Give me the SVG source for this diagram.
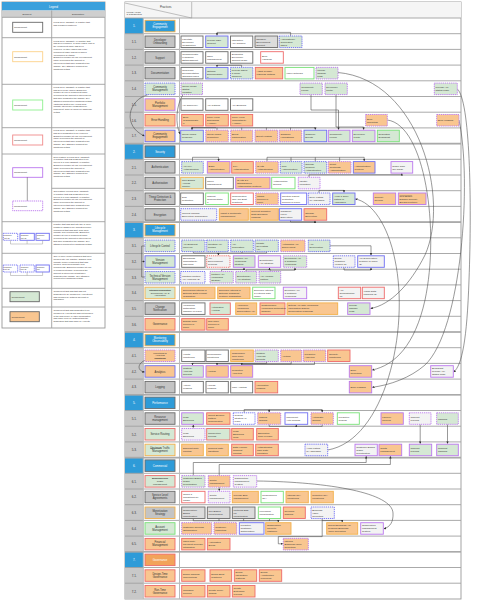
<svg xmlns="http://www.w3.org/2000/svg" width="479" height="600" viewBox="0 0 479 600">
<defs>
<marker id="a" viewBox="0 0 6 6" refX="5.5" refY="3" markerWidth="2.4" markerHeight="2.4" orient="auto" markerUnits="userSpaceOnUse"><path d="M0,0L6,3L0,6z" fill="#333"/></marker>
</defs>
<style>
text{font-family:"Liberation Sans",Arial,sans-serif;fill:#333}
.p{font-size:2.5px}
.c{font-size:2.7px;text-anchor:middle}
.cw{font-size:2.7px;text-anchor:middle;fill:#fff}
.n{font-size:3px;text-anchor:middle}
.nw{font-size:3px;text-anchor:middle;fill:#fff}
.lg{font-size:2.2px}
.lh{font-size:2.7px;text-anchor:middle}
rect{stroke-width:0.9}
.k{stroke:#6a6a6a}
.o{stroke:#f2b04a}
.r{stroke:#ee6a6a}
.u{stroke:#bb77ee}
.b{stroke:#6e6ef2}
.g{stroke:#77e077}
.d{stroke-dasharray:1.3 0.8}
.fw{fill:#fff}
.fg{fill:#d5e8d4}
.fo{fill:#f9c690}
.fl{fill:#f3f3f3}
.fy{fill:#c4c4c4}
.fs{fill:#dcdcdc}
.fb{fill:#2e9bd8}
.st{text-decoration:line-through}
.con path{fill:none;stroke:#444;stroke-width:0.55}
.grid{fill:none;stroke:#a0a0a0;stroke-width:0.9}
</style>
<rect x="0" y="0" width="479" height="600" fill="#fff"/>

<!-- LEGEND -->
<g id="legend">
<rect x="2" y="2" width="103" height="326" fill="#fff" stroke="#999" stroke-width="0.8"/>
<rect x="2" y="2" width="103" height="8.5" fill="#3aa0dc"/>
<text class="lh" x="53.5" y="7.5" fill="#fff" style="fill:#fff">Legend</text>
<rect x="2" y="10.5" width="103" height="6.8" fill="#cfcfcf"/>
<text class="lh" x="27" y="15" style="font-size:2.4px">Element</text>
<text class="lh" x="78" y="15" style="font-size:2.4px">Description</text>
<path class="grid" d="M51.7,10.5V328M2,17.3H105M2,37.7H105M2,84.3H105M2,127.7H105M2,154H105M51.7,188.3H105M2,221.7H105M2,253.3H105M2,288.3H105M2,307H105"/>
<rect class="fw k" x="12.7" y="22.3" width="30" height="10"/><text class="p" x="14" y="28.2">Component</text>
<rect class="fw" x="12.7" y="51.7" width="30" height="10" stroke="#fcd28a"/><text class="p" x="14" y="57.6">Component</text>
<rect class="fw" x="12.7" y="100" width="30" height="10" stroke="#8ef08e"/><text class="p" x="14" y="105.9">Component</text>
<rect class="fw" x="12.7" y="135" width="30" height="10" stroke="#f08a8a"/><text class="p" x="14" y="140.9">Component</text>
<rect class="fw u" x="12.7" y="167.7" width="30" height="9.6"/><text class="p" x="14" y="173.4">Component</text>
<path d="M27.3,177.3V201" stroke="#444" stroke-width="0.5"/>
<rect class="fw u d" x="12.7" y="201" width="30" height="9.7"/><text class="p" x="14" y="206.8">Component</text>
<rect class="fw b d" x="3.3" y="233.3" width="14.4" height="7"/><text class="p" x="4" y="236.3" style="font-size:2px">Compon<tspan x="4" dy="2.4">ent (2)</tspan></text>
<rect class="fw b" x="20" y="233.3" width="14.3" height="7"/><text class="p" x="20.7" y="236.3" style="font-size:2px">Compon<tspan x="20.7" dy="2.4">ent (2)</tspan></text>
<rect class="fw b" x="36" y="233.3" width="13.3" height="7"/><text class="p" x="36.7" y="236.3" style="font-size:2px">Compon<tspan x="36.7" dy="2.4">ent</tspan></text>
<path d="M10.5,240.3V244H42.6V240.3M27.1,244V240.3" fill="none" stroke="#999" stroke-width="0.5"/>
<rect class="fw b d" x="3.3" y="265" width="14.4" height="7"/><text class="p" x="4" y="268" style="font-size:2px">Compon<tspan x="4" dy="2.4">ent (2)</tspan></text>
<rect class="fw b d" x="20" y="265" width="14.3" height="7"/><text class="p" x="20.7" y="268" style="font-size:2px">Compon<tspan x="20.7" dy="2.4">ent (2)</tspan></text>
<rect class="fw b" x="36" y="265" width="13.3" height="7"/><text class="p" x="36.7" y="268" style="font-size:2px">Compon<tspan x="36.7" dy="2.4">ent</tspan></text>
<path d="M10.5,272V275.5H42.6V272M27.1,275.5V272" fill="none" stroke="#999" stroke-width="0.5"/>
<rect class="fg" x="10" y="291.7" width="29.3" height="10" stroke="#666"/><text class="p" x="11.5" y="297.6">Component</text>
<rect class="fo" x="10" y="311.7" width="29.3" height="10" stroke="#666"/><text class="p" x="11.5" y="317.6">Component</text>
<text class="lg" x="53.5" y="23">Focus area, capability or practice that<tspan x="53.5" dy="2.8">has remained unaltered.</tspan></text>
<text class="lg" x="53.5" y="41.5">Focus area, capability, or practice that<tspan x="53.5" dy="2.8">has been renamed. In some cases, part of</tspan><tspan x="53.5" dy="2.8">the component name has been</tspan><tspan x="53.5" dy="2.8">removed, in other cases part of the</tspan><tspan x="53.5" dy="2.8">component name has been added</tspan><tspan x="53.5" dy="2.8">(denounced by italics).</tspan><tspan x="53.5" dy="2.8">Bracketed number at end of component</tspan><tspan x="53.5" dy="2.8">name denounces the amount of</tspan><tspan x="53.5" dy="2.8">interviewees that have suggested the</tspan><tspan x="53.5" dy="2.8">change. See attached comment for</tspan><tspan x="53.5" dy="2.8">additional details.</tspan></text>
<text class="lg" x="53.5" y="87.8">Focus area, capability or practice that<tspan x="53.5" dy="2.8">has been newly added. Bracketed</tspan><tspan x="53.5" dy="2.8">number at end of component name</tspan><tspan x="53.5" dy="2.8">denounces the amount of interviewees</tspan><tspan x="53.5" dy="2.8">that have suggested the change. See</tspan><tspan x="53.5" dy="2.8">attached comment for additional details.</tspan><tspan x="53.5" dy="2.8">(Optional) Dotted line: Focus area</tspan><tspan x="53.5" dy="2.8">indicate interviewee suggestion for</tspan><tspan x="53.5" dy="2.8">placement. Click on arrow for additional</tspan><tspan x="53.5" dy="2.8">details.</tspan></text>
<text class="lg" x="53.5" y="131">Focus area, capability or practice that<tspan x="53.5" dy="2.8">has been suggested to be removed.</tspan><tspan x="53.5" dy="2.8">Bracketed number at end of component</tspan><tspan x="53.5" dy="2.8">name denounces the amount of</tspan><tspan x="53.5" dy="2.8">interviewees that have suggested the</tspan><tspan x="53.5" dy="2.8">change. See attached comment for</tspan><tspan x="53.5" dy="2.8">additional details.</tspan></text>
<text class="lg" x="53.5" y="157.5">New position of focus area, capability<tspan x="53.5" dy="2.8">or practice that was suggested to be</tspan><tspan x="53.5" dy="2.8">moved to a new capability or practice.</tspan><tspan x="53.5" dy="2.8">Bracketed number at end of component</tspan><tspan x="53.5" dy="2.8">name denounces the amount of</tspan><tspan x="53.5" dy="2.8">interviewees that have suggested the</tspan><tspan x="53.5" dy="2.8">change. See attached comment for</tspan><tspan x="53.5" dy="2.8">additional details.</tspan></text>
<text class="lg" x="53.5" y="192">Old position of focus area, capability,<tspan x="53.5" dy="2.8">or practice that was suggested to be</tspan><tspan x="53.5" dy="2.8">moved to a new capability or practice.</tspan><tspan x="53.5" dy="2.8">Bracketed number at end of component</tspan><tspan x="53.5" dy="2.8">name denounces the amount of</tspan><tspan x="53.5" dy="2.8">interviewees that have suggested the</tspan><tspan x="53.5" dy="2.8">change. See attached comment for</tspan><tspan x="53.5" dy="2.8">additional details.</tspan></text>
<text class="lg" x="53.5" y="225">Practice that was split into two or more<tspan x="53.5" dy="2.8">practices. Dashed line indicates former</tspan><tspan x="53.5" dy="2.8">component that was split, solid lines</tspan><tspan x="53.5" dy="2.8">indicate new components. Bracketed</tspan><tspan x="53.5" dy="2.8">number at end of component name</tspan><tspan x="53.5" dy="2.8">denounces the amount of interviewees</tspan><tspan x="53.5" dy="2.8">that have suggested the change. See</tspan><tspan x="53.5" dy="2.8">attached comment for additional details.</tspan></text>
<text class="lg" x="53.5" y="257">One or more former practices that were<tspan x="53.5" dy="2.8">merged into one practice. Dashed lines</tspan><tspan x="53.5" dy="2.8">indicate former component that was</tspan><tspan x="53.5" dy="2.8">merged, solid lines indicate new</tspan><tspan x="53.5" dy="2.8">components. Bracketed number at end</tspan><tspan x="53.5" dy="2.8">of component name denounces the</tspan><tspan x="53.5" dy="2.8">amount of interviewees that have</tspan><tspan x="53.5" dy="2.8">suggested the change. See attached</tspan><tspan x="53.5" dy="2.8">comment for additional details.</tspan></text>
<text class="lg" x="53.5" y="292">Component that was that was not<tspan x="53.5" dy="2.8">suggested to be modified by experts but</tspan><tspan x="53.5" dy="2.8">was modified by authors as result of</tspan><tspan x="53.5" dy="2.8">discussion.</tspan></text>
<text class="lg" x="53.5" y="311">Component that was suggested to be<tspan x="53.5" dy="2.8">modified by experts but was not included</tspan><tspan x="53.5" dy="2.8">in the final model or other modification</tspan><tspan x="53.5" dy="2.8">was made done by authors than the</tspan><tspan x="53.5" dy="2.8">suggestion that was made by experts.</tspan></text>
</g>

<!-- TABLE GRID -->
<g id="table">
<rect x="125" y="2" width="336" height="597" fill="#fff" stroke="#999" stroke-width="0.9"/>
<rect x="125" y="2" width="336" height="16" fill="#f5f5f5"/>
<rect x="125" y="18" width="18.3" height="581" fill="#c8c8c8"/>
<rect class="fb" x="125" y="18" width="18.3" height="15.7"/>
<rect class="fb" x="125" y="143.6" width="18.3" height="15.7"/>
<rect class="fb" x="125" y="222.1" width="18.3" height="15.7"/>
<rect class="fb" x="125" y="332" width="18.3" height="15.7"/>
<rect class="fb" x="125" y="394.8" width="18.3" height="15.7"/>
<rect class="fb" x="125" y="457.6" width="18.3" height="15.7"/>
<rect class="fb" x="125" y="551.8" width="18.3" height="15.7"/>
<path class="grid" d="M125,18H461M125,33.7H461M125,49.4H461M125,65.1H461M125,80.8H461M125,96.5H461M125,112.2H461M125,127.9H461M125,143.6H461M125,159.3H461M125,175H461M125,190.7H461M125,206.4H461M125,222.1H461M125,237.8H461M125,253.5H461M125,269.2H461M125,284.9H461M125,300.6H461M125,316.3H461M125,332H461M125,347.7H461M125,363.4H461M125,379.1H461M125,394.8H461M125,410.5H461M125,426.2H461M125,441.9H461M125,457.6H461M125,473.3H461M125,489H461M125,504.7H461M125,520.4H461M125,536.1H461M125,551.8H461M125,567.5H461M125,583.2H461"/>
<path d="M143.3,18V599M179.5,18V599" stroke="#bbb" stroke-width="1"/>
<path d="M191.7,2V18M125,3L191.7,18" stroke="#999" stroke-width="0.6" fill="none"/>
<path d="M125,143.6H461M125,222.1H461M125,332H461M125,394.8H461M125,457.6H461M125,551.8H461" stroke="#aaa" stroke-width="1.6" fill="none"/>
<text class="p" x="160" y="7.5" style="font-size:2.8px">Practices</text>
<text class="p" x="126.5" y="12.5" style="font-size:2.5px">Focus Areas<tspan x="126.5" dy="2.8">&amp; Capabilities</tspan></text>
<g class="num">
<text class="nw" x="134.2" y="27.3">1.</text>
<text class="n" x="134.2" y="43">1.1.</text>
<text class="n" x="134.2" y="58.7">1.2.</text>
<text class="n" x="134.2" y="74.4">1.3.</text>
<text class="n" x="134.2" y="90.1">1.4.</text>
<text class="n" x="134.2" y="105.8">1.5.</text>
<text class="n" x="134.2" y="121.5">1.6.</text>
<text class="n" x="134.2" y="137.2">1.7.</text>
<text class="nw" x="134.2" y="152.9">2.</text>
<text class="n" x="134.2" y="168.6">2.1.</text>
<text class="n" x="134.2" y="184.3">2.2.</text>
<text class="n" x="134.2" y="200">2.3.</text>
<text class="n" x="134.2" y="215.7">2.4.</text>
<text class="nw" x="134.2" y="231.4">3.</text>
<text class="n" x="134.2" y="247.1">3.1.</text>
<text class="n" x="134.2" y="262.8">3.2.</text>
<text class="n" x="134.2" y="278.5">3.3.</text>
<text class="n" x="134.2" y="294.2">3.4.</text>
<text class="n" x="134.2" y="309.9">3.5.</text>
<text class="n" x="134.2" y="325.6">3.6.</text>
<text class="nw" x="134.2" y="341.3">4.</text>
<text class="n" x="134.2" y="357">4.1.</text>
<text class="n" x="134.2" y="372.7">4.2.</text>
<text class="n" x="134.2" y="388.4">4.3.</text>
<text class="nw" x="134.2" y="404.1">5.</text>
<text class="n" x="134.2" y="419.8">5.1.</text>
<text class="n" x="134.2" y="435.5">5.2.</text>
<text class="n" x="134.2" y="451.2">5.3.</text>
<text class="nw" x="134.2" y="466.9">6.</text>
<text class="n" x="134.2" y="482.6">6.1.</text>
<text class="n" x="134.2" y="498.3">6.2.</text>
<text class="n" x="134.2" y="514">6.3.</text>
<text class="n" x="134.2" y="529.7">6.4.</text>
<text class="n" x="134.2" y="545.4">6.5.</text>
<text class="nw" x="134.2" y="561.1">7.</text>
<text class="n" x="134.2" y="576.8">7.1.</text>
<text class="n" x="134.2" y="592.5">7.2.</text>
</g>
</g>

<!-- CONNECTORS -->
<g id="connectors" class="con">
<path d="M290.6,36V32.4H217V35.4" marker-end="url(#a)"/>
<path d="M241.6,67.4V65.3H217V66.8" marker-end="url(#a)"/>
<path d="M311,94.6V110H338.5V129.6" marker-end="url(#a)"/>
<path d="M336,94.6V127H363.6V129.6" marker-end="url(#a)"/>
<path d="M183,94.6C176,105 175,125 180.2,134" marker-end="url(#a)"/>
<path d="M148,94.6C128,100 122,126 144.5,136" marker-end="url(#a)"/>
<path d="M217,130.2V127.7M241.7,130.2V127.7M266.4,130.2V127.7M290.5,130.2V127.7"/>
<path d="M192,129.6V127.7H315.3V129.6" marker-end="url(#a)"/>
<path d="M216,127.7H192V129.6" marker-end="url(#a)"/>
<path d="M192.5,161.6V157.3H218.6V161" marker-end="url(#a)"/>
<path d="M267,161.6V157.3H364.2V161" marker-end="url(#a)"/>
<path d="M291,157.3V161.6M315.3,157.3V161.6M339.6,157.3V161.6"/>
<path d="M309,177.3V174.8H401.8V173.4" marker-end="url(#a)"/>
<path d="M319,193V190.4H344V192.4" marker-end="url(#a)"/>
<path d="M290.5,220.2V222H315V220.7" marker-end="url(#a)"/>
<path d="M193.4,251.6V253H266.6V251.6M242,251.6V253"/>
<path d="M218.4,253V255.2" marker-end="url(#a)"/>
<path d="M330,245.8H371V255.2" marker-end="url(#a)"/>
<path d="M344,267.3V270H371V267.9" marker-end="url(#a)"/>
<path d="M221.6,271.5V269.6H244V267.9" marker-end="url(#a)"/>
<path d="M246,271.5V269.9H269.5V267.9" marker-end="url(#a)"/>
<path d="M270,271.5V270.2H295V267.9" marker-end="url(#a)"/>
<path d="M145,246H141.7V277H145"/>
<path d="M141.7,261.5H144.7" marker-end="url(#a)"/>
<path d="M338,72.5C420,80 450,200 425,255C410,285 390,305 370.6,308.5" marker-end="url(#a)"/>
<path d="M457.3,89C470,100 472,200 469,280C467,340 462,365 453.8,372" marker-end="url(#a)"/>
<path d="M387.3,120C425,125 440,230 425,300C415,345 395,365 372.3,370" marker-end="url(#a)"/>
<path d="M459,120C472,180 462,330 425,365C410,378 390,385 372.3,387.3" marker-end="url(#a)"/>
<path d="M327.7,450C385,440 410,330 395,260C388,225 372,202 355.3,199" marker-end="url(#a)"/>
<path d="M266.6,361.5V363.3H192.5V365.1" marker-end="url(#a)"/>
<path d="M291.2,361.5V363.9H217V365.1" marker-end="url(#a)"/>
<path d="M314.5,361.5V364.5H241.7V365.1" marker-end="url(#a)"/>
<path d="M146,360C137,363 137,371 144.6,372" marker-end="url(#a)"/>
<path d="M244.2,412.8V409.5H322.2V412.2" marker-end="url(#a)"/>
<path d="M269.2,409.5V412.2" marker-end="url(#a)"/>
<path d="M269.2,424.3V426.4H322.2V424.3"/>
<path d="M296.3,426.4V424.8" marker-end="url(#a)"/>
<path d="M420.2,424.3V443.6" marker-end="url(#a)"/>
<path d="M447.5,424.3V443.6" marker-end="url(#a)"/>
<path d="M193.3,428.5V424.9" marker-end="url(#a)"/>
<path d="M193.3,475.6V462.5H366.2V456.3" marker-end="url(#a)"/>
<path d="M219.2,475.6V464.5H390.4V456.3" marker-end="url(#a)"/>
<path d="M219.2,487.1V490.7" marker-end="url(#a)"/>
<path d="M256.7,481C330,482 392,493 393,513C393.5,522 390,527 383.9,528.8" marker-end="url(#a)"/>
<path d="M193.3,518.5V520.8H278.3V522.1" marker-end="url(#a)"/>
<path d="M219,518.5V520.8M243.6,518.5V520.8M269.5,518.5V520.8"/>
<path d="M322.2,518.5V520.6H342.2V522.1" marker-end="url(#a)"/>
<path d="M322.2,520.6V536.6H278.3V543.8H282.8" marker-end="url(#a)"/>
</g>

<!-- SECTION COMPONENTS -->
<g id="s1"><rect class="fb o" x="145" y="20.3" width="30" height="11.5"/><text class="cw" x="160" y="25.3">Community<tspan x="160" dy="3">Engagement</tspan></text></g>
<g id="s2"><rect class="fb k" x="145" y="145.9" width="30" height="11.5"/><text class="cw" x="160" y="152.7">Security</text></g>
<g id="s3"><rect class="fb o" x="145" y="224.4" width="30" height="11.5"/><text class="cw" x="160" y="229.4">Lifecycle<tspan x="160" dy="3">Management</tspan></text></g>
<g id="s4"><rect class="fb o" x="145" y="334.3" width="30" height="11.5"/><text class="cw" x="160" y="339.3">Monitoring<tspan x="160" dy="3">Observability</tspan></text></g>
<g id="s5"><rect class="fb k" x="145" y="397.1" width="30" height="11.5"/><text class="cw" x="160" y="403.9">Performance</text></g>
<g id="s6"><rect class="fb k" x="145" y="459.9" width="30" height="11.5"/><text class="cw" x="160" y="466.7">Commercial</text></g>
<g id="s7"><rect class="r" x="145" y="554.1" width="30" height="11.5" fill="#f2a35a"/><text class="cw" x="160" y="560.9">Governance</text></g>

<!-- CAPABILITY COMPONENTS -->
<g id="c1-1"><rect class="fy k" x="145" y="36" width="30" height="11.5"/><text class="c" x="160" y="41">Developer<tspan x="160" dy="3">Onboarding</tspan></text></g>
<g id="c1-2"><rect class="fy k" x="145" y="51.7" width="30" height="11.5"/><text class="c" x="160" y="58.5">Support</text></g>
<g id="c1-3"><rect class="fy k" x="145" y="67.4" width="30" height="11.5"/><text class="c" x="160" y="74.2">Documentation</text></g>
<g id="c1-4"><rect class="fg b d" x="145" y="83.1" width="30" height="11.5"/><text class="c" x="160" y="88.1">Community<tspan x="160" dy="3">Management</tspan></text></g>
<g id="c1-5"><rect class="fo u" x="145" y="98.8" width="30" height="11.5"/><text class="c" x="160" y="103.8">Portfolio<tspan x="160" dy="3">Management</tspan></text></g>
<g id="c1-6"><rect class="fo r" x="145" y="114.5" width="30" height="11.5"/><text class="c" x="160" y="121.3">Error Handling</text></g>
<g id="c1-7"><rect class="fo b" x="145" y="130.2" width="30" height="11.5"/><text class="c" x="160" y="135.2">Community<tspan x="160" dy="3">Engagement</tspan></text></g>
<g id="c2-1"><rect class="fy k" x="145" y="161.6" width="30" height="11.5"/><text class="c" x="160" y="168.4">Authentication</text></g>
<g id="c2-2"><rect class="fy k" x="145" y="177.3" width="30" height="11.5"/><text class="c" x="160" y="184.1">Authorization</text></g>
<g id="c2-3"><rect class="fy k" x="145" y="193" width="30" height="11.5"/><text class="c" x="160" y="198">Threat Detection &amp;<tspan x="160" dy="3">Protection</tspan></text></g>
<g id="c2-4"><rect class="fy k" x="145" y="208.7" width="30" height="11.5"/><text class="c" x="160" y="215.5">Encryption</text></g>
<g id="c3-1"><rect class="fg b d" x="145" y="240.1" width="30" height="11.5"/><text class="c" x="160" y="246.9">Lifecycle Control</text></g>
<g id="c3-2"><rect class="fg b" x="145" y="255.8" width="30" height="11.5"/><text class="c" x="160" y="260.8">Version<tspan x="160" dy="3">Management</tspan></text></g>
<g id="c3-3"><rect class="fg b d" x="145" y="271.5" width="30" height="11.5"/><text class="c" x="160" y="276.5">Technical Version<tspan x="160" dy="3">Management</tspan></text></g>
<g id="c3-4"><rect class="fg o" x="145" y="287.2" width="30" height="11.5"/><text class="c" x="160" y="290.8" style="font-size:2.4px"><tspan class="st">Interface Translation</tspan><tspan x="160" dy="2.8">Decoupling API &amp;</tspan><tspan x="160" dy="2.8">Application</tspan></text></g>
<g id="c3-5"><rect class="fy k" x="145" y="302.9" width="30" height="11.5"/><text class="c" x="160" y="307.9">Change<tspan x="160" dy="3">Notification</tspan></text></g>
<g id="c3-6"><rect class="fo r" x="145" y="318.6" width="30" height="11.5"/><text class="c" x="160" y="325.4">Governance</text></g>
<g id="c4-1"><rect class="fo u d" x="145" y="350" width="30" height="11.5"/><text class="c" x="160" y="353.6" style="font-size:2.4px">Monitoring &amp;<tspan x="160" dy="2.8">Analytics</tspan><tspan x="160" dy="2.8" class="st">Monitoring</tspan></text></g>
<g id="c4-2"><rect class="fo b" x="145" y="365.7" width="30" height="11.5"/><text class="c" x="160" y="372.5">Analytics</text></g>
<g id="c4-3"><rect class="fy k" x="145" y="381.4" width="30" height="11.5"/><text class="c" x="160" y="388.2">Logging</text></g>
<g id="c5-1"><rect class="fy k" x="145" y="412.8" width="30" height="11.5"/><text class="c" x="160" y="417.8">Resource<tspan x="160" dy="3">management</tspan></text></g>
<g id="c5-2"><rect class="fg r" x="145" y="428.5" width="30" height="11.5"/><text class="c" x="160" y="435.3">Service Routing</text></g>
<g id="c5-3"><rect class="fg o" x="145" y="444.2" width="30" height="11.5"/><text class="c" x="160" y="449.2"><tspan class="st">Upstream</tspan> Traffic<tspan x="160" dy="3">Management</tspan></text></g>
<g id="c6-1"><rect class="fg r" x="145" y="475.6" width="30" height="11.5"/><text class="c" x="160" y="479.2" style="font-size:2.4px"><tspan class="st">Business Level</tspan><tspan x="160" dy="2.8">Traffic</tspan><tspan x="160" dy="2.8">Management</tspan></text></g>
<g id="c6-2"><rect class="fy k" x="145" y="491.3" width="30" height="11.5"/><text class="c" x="160" y="496.3">Service Level<tspan x="160" dy="3">Agreements</tspan></text></g>
<g id="c6-3"><rect class="fy o" x="145" y="507" width="30" height="11.5"/><text class="c" x="160" y="512">Monetization<tspan x="160" dy="3">Strategy</tspan></text></g>
<g id="c6-4"><rect class="fg g" x="145" y="522.7" width="30" height="11.5"/><text class="c" x="160" y="527.7">Account<tspan x="160" dy="3">Management</tspan></text></g>
<g id="c6-5"><rect class="fo r" x="145" y="538.4" width="30" height="11.5"/><text class="c" x="160" y="543.4">Financial<tspan x="160" dy="3">Management</tspan></text></g>
<g id="c7-1"><rect class="fo r" x="145" y="569.8" width="30" height="11.5"/><text class="c" x="160" y="574.8">Design-Time<tspan x="160" dy="3">Governance</tspan></text></g>
<g id="c7-2"><rect class="fo r" x="145" y="585.5" width="30" height="11.5"/><text class="c" x="160" y="590.5">Run-Time<tspan x="160" dy="3">Governance</tspan></text></g>

<!-- PRACTICES -->
<g id="p11a"><rect class="fw k" x="181" y="36" width="22" height="11.5"/><text class="p" x="182.2" y="39.5">Facilitate<tspan x="182.2" dy="3">Developer</tspan><tspan x="182.2" dy="3">Registration</tspan></text></g>
<g id="p11b"><rect class="fg b" x="205.7" y="36" width="22.3" height="11.5"/><text class="p" x="206.9" y="41">Provide SDK<tspan x="206.9" dy="3">Support</tspan></text></g>
<g id="p11c"><rect class="fw k" x="230.5" y="36" width="22.3" height="11.5"/><text class="p" x="231.7" y="41">Interactive<tspan x="231.7" dy="3">API Console</tspan></text></g>
<g id="p11d"><rect class="fs k" x="255" y="36" width="22.7" height="11.5"/><text class="p" x="256.2" y="39.5">Sandbox<tspan x="256.2" dy="3">Environment</tspan><tspan x="256.2" dy="3">Support</tspan></text></g>
<g id="p11e"><rect class="fg b d" x="279.3" y="36" width="22.7" height="11.5"/><text class="p" x="280.5" y="39.5">Automatically<tspan x="280.5" dy="3">Generated</tspan><tspan x="280.5" dy="3">SDKs</tspan></text></g>

<g id="p12a"><rect class="fw k" x="181" y="51.7" width="22" height="11.5"/><text class="p" x="182.2" y="55.2">Communicatio<tspan x="182.2" dy="3">n Channel</tspan><tspan x="182.2" dy="3">Establishment</tspan></text></g>
<g id="p12b"><rect class="fw k" x="205.7" y="51.7" width="22.3" height="11.5"/><text class="p" x="206.9" y="56.7">Issue<tspan x="206.9" dy="3">Management</tspan></text></g>
<g id="p12c"><rect class="fw k" x="230.5" y="51.7" width="22.3" height="11.5"/><text class="p" x="231.7" y="55.2">Dedicated<tspan x="231.7" dy="3">Developer</tspan><tspan x="231.7" dy="3">Support Team</tspan></text></g>
<g id="p12d"><rect class="fw r" x="260.7" y="51.7" width="22.6" height="11.5"/><text class="p" x="261.9" y="56.7">Error<tspan x="261.9" dy="3">Handling</tspan></text></g>

<g id="p13a"><rect class="fw k" x="181" y="67.4" width="22" height="11.5"/><text class="p" x="182.2" y="70.9">Reference<tspan x="182.2" dy="3">Documentation</tspan><tspan x="182.2" dy="3">Standard Used</tspan></text></g>
<g id="p13b"><rect class="fg b" x="205.7" y="67.4" width="22.3" height="11.5"/><text class="p" x="206.9" y="72.4">Optimal<tspan x="206.9" dy="3">Documentatio</tspan><tspan x="206.9" dy="3">n</tspan></text></g>
<g id="p13c"><rect class="fg b d" x="230.5" y="67.4" width="22.3" height="11.5"/><text class="p" x="231.7" y="70.9">Provide SDKs<tspan x="231.7" dy="3">&amp; Code</tspan><tspan x="231.7" dy="3">Samples</tspan></text></g>
<g id="p13d"><rect class="fo r" x="255.3" y="67.4" width="27.4" height="11.5"/><text class="p" x="256.5" y="72.4">Adapt Symbol<tspan x="256.5" dy="3">Labeling Method</tspan></text></g>
<g id="p13e"><rect class="fw g" x="285" y="67.4" width="29" height="11.5"/><text class="p" x="286.2" y="74.1">Video Tutorials</text></g>
<g id="p13f"><rect class="fg u d" x="316" y="67.4" width="22" height="11.5"/><text class="p" x="317.2" y="70.9">Include<tspan x="317.2" dy="3">Change</tspan><tspan x="317.2" dy="3">Logs</tspan></text></g>

<g id="p14a"><rect class="fg u d" x="181" y="83.1" width="21.5" height="11.5"/><text class="p" x="182.2" y="86.6">Social Media<tspan x="182.2" dy="3">Status</tspan><tspan x="182.2" dy="3">Updates</tspan></text></g>
<g id="p14b"><rect class="fg u d" x="300" y="83.1" width="22.3" height="11.5"/><text class="p" x="301.2" y="88.1">Community<tspan x="301.2" dy="3">Forum</tspan></text></g>
<g id="p14c"><rect class="fg u d" x="325" y="83.1" width="22.3" height="11.5"/><text class="p" x="326.2" y="88.1">Developer<tspan x="326.2" dy="3">Portal</tspan></text></g>
<g id="p14d"><rect class="fg u d" x="434.3" y="83.1" width="23" height="11.5"/><text class="p" x="435.5" y="88.1">Provide API<tspan x="435.5" dy="3">Status Page</tspan></text></g>

<g id="p15a"><rect class="fw k" x="181" y="98.8" width="22" height="11.5"/><text class="p" x="182.2" y="105.5">API Discovery</text></g>
<g id="p15b"><rect class="fw k" x="205.7" y="98.8" width="22.3" height="11.5"/><text class="p" x="206.9" y="105.5">API Catalog</text></g>
<g id="p15c"><rect class="fw k" x="230.5" y="98.8" width="22.3" height="11.5"/><text class="p" x="231.7" y="105.5">API Bundling</text></g>

<g id="p16a"><rect class="fo r" x="181.7" y="114.5" width="21.6" height="11.5"/><text class="p" x="182.9" y="118">Error<tspan x="182.9" dy="3">Transformatio</tspan><tspan x="182.9" dy="3">n</tspan></text></g>
<g id="p16b"><rect class="fo r" x="205.7" y="114.5" width="22.6" height="11.5"/><text class="p" x="206.9" y="118">Policy Flow<tspan x="206.9" dy="3">Debugging</tspan><tspan x="206.9" dy="3">(Apigee)</tspan></text></g>
<g id="p16c"><rect class="fo r" x="230.7" y="114.5" width="22" height="11.5"/><text class="p" x="231.9" y="118">Policy Flow<tspan x="231.9" dy="3">Compatibility</tspan><tspan x="231.9" dy="3">(Apigee)</tspan></text></g>
<g id="p16d"><rect class="fo u d" x="365.7" y="114.5" width="21.6" height="11.5"/><text class="p" x="366.9" y="119.5">Error<tspan x="366.9" dy="3">Reporting</tspan></text></g>
<g id="p16e"><rect class="fo u d" x="436.7" y="114.5" width="22.3" height="11.5"/><text class="p" x="437.9" y="121.2">Error Logging</text></g>

<g id="p17a"><rect class="fg b" x="180.7" y="130.2" width="22.6" height="11.5"/><text class="p" x="181.9" y="135.2">Social Media<tspan x="181.9" dy="3">Presence</tspan></text></g>
<g id="p17b"><rect class="fo u d" x="205.7" y="130.2" width="22.6" height="11.5"/><text class="p" x="206.9" y="135.2">Social Media<tspan x="206.9" dy="3">Promotion</tspan></text></g>
<g id="p17c"><rect class="fo u d" x="230.7" y="130.2" width="22" height="11.5"/><text class="p" x="231.9" y="135.2">Event<tspan x="231.9" dy="3">Participation</tspan></text></g>
<g id="p17d"><rect class="fo u d" x="255" y="130.2" width="22.7" height="11.5"/><text class="p" x="256.2" y="136.9">Event Hosting</text></g>
<g id="p17e"><rect class="fo u d" x="279.3" y="130.2" width="22.4" height="11.5"/><text class="p" x="280.5" y="135.2">Organize<tspan x="280.5" dy="3">Hackathons</tspan></text></g>
<g id="p17f"><rect class="fg b" x="304" y="130.2" width="22.7" height="11.5"/><text class="p" x="305.2" y="135.2">Organize<tspan x="305.2" dy="3">Events</tspan></text></g>
<g id="p17g"><rect class="fg u" x="328.3" y="130.2" width="21.7" height="11.5"/><text class="p" x="329.5" y="135.2">Community<tspan x="329.5" dy="3">Forum</tspan></text></g>
<g id="p17h"><rect class="fg u" x="352.3" y="130.2" width="22.7" height="11.5"/><text class="p" x="353.5" y="135.2">Developer<tspan x="353.5" dy="3">Portal</tspan></text></g>
<g id="p17i"><rect class="fg g" x="377.3" y="130.2" width="22" height="11.5"/><text class="p" x="378.5" y="135.2">Dedicated<tspan x="378.5" dy="3">Evangelist</tspan></text></g>

<g id="p21a"><rect class="fg b d" x="181.7" y="161.6" width="21.6" height="11.5"/><text class="p" x="182.9" y="166.6">API Key<tspan x="182.9" dy="3">Authentication</tspan></text></g>
<g id="p21b"><rect class="fo u" x="207.3" y="161.6" width="22.7" height="11.5"/><text class="p" x="208.5" y="166.6">Basic<tspan x="208.5" dy="3">Authentication</tspan></text></g>
<g id="p21c"><rect class="fo r" x="231.7" y="161.6" width="21.6" height="11.5"/><text class="p" x="232.9" y="166.6">2 FA<tspan x="232.9" dy="3">Authentication</tspan></text></g>
<g id="p21d"><rect class="fo u d" x="255.7" y="161.6" width="22.6" height="11.5"/><text class="p" x="256.9" y="166.6">OAuth<tspan x="256.9" dy="3">Authentication</tspan></text></g>
<g id="p21e"><rect class="fg b d" x="280.3" y="161.6" width="21.7" height="11.5"/><text class="p" x="281.5" y="166.6">JWT<tspan x="281.5" dy="3">Authentication</tspan></text></g>
<g id="p21f"><rect class="fg b d" x="304" y="161.6" width="22.7" height="11.5"/><text class="p" x="305.2" y="165.1">OpenID<tspan x="305.2" dy="3">Connect</tspan><tspan x="305.2" dy="3">Authentication</tspan></text></g>
<g id="p21g"><rect class="fo u d" x="328.3" y="161.6" width="22.7" height="11.5"/><text class="p" x="329.5" y="165.1">Client<tspan x="329.5" dy="3">Certificate</tspan><tspan x="329.5" dy="3">Authentication</tspan></text></g>
<g id="p21h"><rect class="fo b" x="353.3" y="161.6" width="21.7" height="11.5"/><text class="p" x="354.5" y="166.6">Authentication<tspan x="354.5" dy="3">Protocol</tspan></text></g>
<g id="p21i"><rect class="fl u" x="391" y="161.6" width="21.7" height="11.5"/><text class="p" x="392.2" y="166.6">Single Sign<tspan x="392.2" dy="3">On (SSO)</tspan></text></g>

<g id="p22a"><rect class="fg o" x="180.7" y="177.3" width="22.6" height="11.5"/><text class="p" x="181.9" y="180.8">Role-Based<tspan x="181.9" dy="3">Access</tspan><tspan x="181.9" dy="3">Control</tspan></text></g>
<g id="p22b"><rect class="fw k" x="205.7" y="177.3" width="27.6" height="11.5"/><text class="p" x="206.9" y="182.3">Token<tspan x="206.9" dy="3">Management</tspan></text></g>
<g id="p22c"><rect class="fo u" x="235.7" y="177.3" width="34.3" height="11.5"/><text class="p" x="236.9" y="180.8">OAuth 2.0<tspan x="236.9" dy="3">Standardized</tspan><tspan x="236.9" dy="3">Authorization Protocol</tspan></text></g>
<g id="p22d"><rect class="fw g" x="271.7" y="177.3" width="23.3" height="11.5"/><text class="p" x="272.9" y="182.3">Authorization<tspan x="272.9" dy="3">Scopes</tspan></text></g>
<g id="p22e"><rect class="fl u d" x="298.3" y="177.3" width="21.7" height="11.5"/><text class="p" x="299.5" y="182.3">Identity<tspan x="299.5" dy="3">Mediation</tspan></text></g>

<g id="p23a"><rect class="fw k" x="180.7" y="193" width="22.6" height="11.5"/><text class="p" x="181.9" y="198">DoS<tspan x="181.9" dy="3">Protection</tspan></text></g>
<g id="p23b"><rect class="fw g" x="205.7" y="193" width="22.6" height="11.5"/><text class="p" x="206.9" y="196.5">JThreat<tspan x="206.9" dy="3">Implementatio</tspan><tspan x="206.9" dy="3">n</tspan></text></g>
<g id="p23c"><rect class="fw r" x="230.7" y="193" width="22.6" height="11.5"/><text class="p" x="231.9" y="196.5">Implemented<tspan x="231.9" dy="3">OWASP Best</tspan><tspan x="231.9" dy="3">Practices</tspan></text></g>
<g id="p23d"><rect class="fo u d" x="255.7" y="193" width="22.6" height="11.5"/><text class="p" x="256.9" y="196.5">CORS<tspan x="256.9" dy="3">Policies in</tspan><tspan x="256.9" dy="3">Place</tspan></text></g>
<g id="p23e"><rect class="fw b" x="280.7" y="193" width="26" height="11.5"/><text class="p" x="281.9" y="196.5">Injection Threat<tspan x="281.9" dy="3">Protection</tspan><tspan x="281.9" dy="3">Policies in Place</tspan></text></g>
<g id="p23f"><rect class="fl b d" x="308.3" y="193" width="21.7" height="11.5"/><text class="p" x="309.5" y="198">Deny Listing<tspan x="309.5" dy="3">IP Addresses</tspan></text></g>
<g id="p23g"><rect class="fg b" x="332.7" y="193" width="22.3" height="11.5"/><text class="p" x="333.9" y="196.5">Allow &amp; Deny<tspan x="333.9" dy="3">Listing IP</tspan><tspan x="333.9" dy="3">Addresses</tspan></text></g>
<g id="p23h"><rect class="fo u" x="373.3" y="193" width="22.4" height="11.5"/><text class="p" x="374.5" y="198">Security<tspan x="374.5" dy="3">Review</tspan></text></g>
<g id="p23i"><rect class="fo u" x="398.3" y="193" width="27.7" height="11.5"/><text class="p" x="399.5" y="196.5"><tspan class="st">Red-Button</tspan><tspan x="399.5" dy="3">Disable Security</tspan><tspan x="399.5" dy="3">Breach Protocol</tspan></text></g>

<g id="p24a"><rect class="fl b d" x="180.7" y="208.7" width="36" height="11.5"/><text class="p" x="181.9" y="213.7">Current Minimal<tspan x="181.9" dy="3">Encryption Compliance</tspan></text></g>
<g id="p24b"><rect class="fo o" x="219.3" y="208.7" width="29" height="11.5"/><text class="p" x="220.5" y="213.7">Mgmt &amp; Certificate<tspan x="220.5" dy="3">Management</tspan></text></g>
<g id="p24c"><rect class="fo o" x="250" y="208.7" width="28.3" height="11.5"/><text class="p" x="251.2" y="212.2">Prevent Sensitive<tspan x="251.2" dy="3">Data Exposure</tspan><tspan x="251.2" dy="3">Masking</tspan></text></g>
<g id="p24d"><rect class="fl b" x="279.3" y="208.7" width="22.4" height="11.5"/><text class="p" x="280.5" y="212.2">Transport<tspan x="280.5" dy="3">Layer</tspan><tspan x="280.5" dy="3">Encryption</tspan></text></g>
<g id="p24e"><rect class="fo r" x="304" y="208.7" width="22.7" height="11.5"/><text class="p" x="305.2" y="213.7">Storage<tspan x="305.2" dy="3">Encryption</tspan></text></g>

<g id="p31a"><rect class="fg b d" x="181.7" y="240.1" width="23.3" height="11.5"/><text class="p" x="182.9" y="245.1">API Endpoint<tspan x="182.9" dy="3">Lifecycle</tspan></text></g>
<g id="p31b"><rect class="fg b d" x="206.7" y="240.1" width="21.6" height="11.5"/><text class="p" x="207.9" y="245.1">Creating API<tspan x="207.9" dy="3">Portals</tspan></text></g>
<g id="p31c"><rect class="fg b d" x="230.7" y="240.1" width="22.6" height="11.5"/><text class="p" x="231.9" y="245.1">API<tspan x="231.9" dy="3">Publication</tspan></text></g>
<g id="p31d"><rect class="fg b d" x="255" y="240.1" width="23.3" height="11.5"/><text class="p" x="256.2" y="243.6">Update<tspan x="256.2" dy="3">Of existing</tspan><tspan x="256.2" dy="3">API</tspan></text></g>
<g id="p31e"><rect class="fo u d" x="280.7" y="240.1" width="24.3" height="11.5"/><text class="p" x="281.9" y="245.1">Automated API<tspan x="281.9" dy="3">Deployment</tspan></text></g>
<g id="p31f"><rect class="fg b d" x="308.3" y="240.1" width="21.7" height="11.5"/><text class="p" x="309.5" y="245.1">API<tspan x="309.5" dy="3">Deprecation</tspan></text></g>

<g id="p32a"><rect class="fw k" x="181.7" y="255.8" width="23.3" height="11.5"/><text class="p" x="182.9" y="259.3">Backwards<tspan x="182.9" dy="3">Compatibility</tspan><tspan x="182.9" dy="3">Checking</tspan></text></g>
<g id="p32b"><rect class="fl r d" x="206.7" y="255.8" width="23.3" height="11.5"/><text class="p" x="207.9" y="259.3">API<tspan x="207.9" dy="3">Development</tspan><tspan x="207.9" dy="3">Process</tspan></text></g>
<g id="p32c"><rect class="fg u" x="233.3" y="255.8" width="21.7" height="11.5"/><text class="p" x="234.5" y="259.3">Multiple API<tspan x="234.5" dy="3">Versioning</tspan><tspan x="234.5" dy="3">Strategy</tspan></text></g>
<g id="p32d"><rect class="fl u" x="258.3" y="255.8" width="22.4" height="11.5"/><text class="p" x="259.5" y="260.8">Evolutionary<tspan x="259.5" dy="3">API Strategy</tspan></text></g>
<g id="p32e"><rect class="fg u d" x="283.3" y="255.8" width="23.4" height="11.5"/><text class="p" x="284.5" y="259.3">Decoupled API<tspan x="284.5" dy="3">&amp; Software</tspan><tspan x="284.5" dy="3">Versioning</tspan></text></g>
<g id="p32f"><rect class="fl b d" x="333.3" y="255.8" width="21.7" height="11.5"/><text class="p" x="334.5" y="259.3">Define<tspan x="334.5" dy="3">Migration</tspan><tspan x="334.5" dy="3">Version (2)</tspan></text></g>
<g id="p32g"><rect class="fl b" x="357.7" y="255.8" width="26.6" height="11.5"/><text class="p" x="358.9" y="259.3">API Deprecation<tspan x="358.9" dy="3">Protocol in Place</tspan><tspan x="358.9" dy="3">(2)</tspan></text></g>

<g id="p33a"><rect class="fl b d" x="180.7" y="271.5" width="24.3" height="11.5"/><text class="p" x="181.9" y="276.5">Maintain Multiple<tspan x="181.9" dy="3">API Versions (2)</tspan></text></g>
<g id="p33b"><rect class="fg u d" x="210" y="271.5" width="23.3" height="11.5"/><text class="p" x="211.2" y="275">Multiple API<tspan x="211.2" dy="3">Versioning</tspan><tspan x="211.2" dy="3">Strategy</tspan></text></g>
<g id="p33c"><rect class="fg u d" x="235.7" y="271.5" width="21" height="11.5"/><text class="p" x="236.9" y="276.5">Evolutionary<tspan x="236.9" dy="3">API Strategy</tspan></text></g>
<g id="p33d"><rect class="fg u d" x="259" y="271.5" width="21.7" height="11.5"/><text class="p" x="260.2" y="276.5">API Version<tspan x="260.2" dy="3">Pattern</tspan></text></g>

<g id="p34a"><rect class="fo o" x="181.7" y="287.2" width="33.3" height="11.5"/><text class="p" x="182.9" y="290.7">Decoupling internal &amp;<tspan x="182.9" dy="3">External Data Format</tspan><tspan x="182.9" dy="3">Translation</tspan></text></g>
<g id="p34b"><rect class="fo o" x="217.7" y="287.2" width="32.3" height="11.5"/><text class="p" x="218.9" y="290.7">Decouple internal &amp;<tspan x="218.9" dy="3">External Transport</tspan><tspan x="218.9" dy="3">Protocol Translation</tspan></text></g>
<g id="p34c"><rect class="fw g" x="252.7" y="287.2" width="22.3" height="11.5"/><text class="p" x="253.9" y="290.7">Decouple internal<tspan x="253.9" dy="3">&amp; external data</tspan><tspan x="253.9" dy="3">model</tspan></text></g>
<g id="p34d"><rect class="fl u" x="283.3" y="287.2" width="23.4" height="11.5"/><text class="p" x="284.5" y="290.7">Decouple API<tspan x="284.5" dy="3">&amp; Software</tspan><tspan x="284.5" dy="3">Versioning</tspan></text></g>
<g id="p34e"><rect class="fl r" x="338.3" y="287.2" width="22.4" height="11.5"/><text class="p" x="339.5" y="290.7">API<tspan x="339.5" dy="3">Orchestration</tspan><tspan x="339.5" dy="3">(2)</tspan></text></g>
<g id="p34f"><rect class="fl r" x="362.3" y="287.2" width="22" height="11.5"/><text class="p" x="363.5" y="292.2">Visual Data<tspan x="363.5" dy="3">Mapping (2)</tspan></text></g>

<g id="p35a"><rect class="fw k" x="181.7" y="302.9" width="23.3" height="11.5"/><text class="p" x="182.9" y="306.4">Versioning<tspan x="182.9" dy="3">Notification</tspan><tspan x="182.9" dy="3">Channel in Place</tspan></text></g>
<g id="p35b"><rect class="fg r" x="210" y="302.9" width="20.3" height="11.5"/><text class="p" x="211.2" y="307.9">Automated<tspan x="211.2" dy="3">Alerting</tspan></text></g>
<g id="p35c"><rect class="fo o" x="235.7" y="302.9" width="21" height="11.5"/><text class="p" x="236.9" y="306.4">Announce<tspan x="236.9" dy="3">Versioning</tspan><tspan x="236.9" dy="3">Deprecation API</tspan></text></g>
<g id="p35d"><rect class="fo r" x="260" y="302.9" width="25" height="11.5"/><text class="p" x="261.2" y="306.4">Customizable<tspan x="261.2" dy="3">Versioning Notification</tspan><tspan x="261.2" dy="3">Channel</tspan></text></g>
<g id="p35e"><rect class="fo o" x="287" y="302.9" width="50.7" height="11.5"/><text class="p" x="288.2" y="306.4">Extend API with Versioning<tspan x="288.2" dy="3">Information Display</tspan><tspan x="288.2" dy="3">Deprecation Warnings</tspan></text></g>
<g id="p35f"><rect class="fg u" x="347.7" y="302.9" width="22.3" height="11.5"/><text class="p" x="348.9" y="306.4">Include<tspan x="348.9" dy="3">Change</tspan><tspan x="348.9" dy="3">Logs</tspan></text></g>

<g id="p36a"><rect class="fo r" x="181.7" y="318.6" width="23.3" height="11.5"/><text class="p" x="182.9" y="322.1">Design-Time<tspan x="182.9" dy="3">Policies in</tspan><tspan x="182.9" dy="3">Place</tspan></text></g>
<g id="p36b"><rect class="fo r" x="206.7" y="318.6" width="21.6" height="11.5"/><text class="p" x="207.9" y="322.1">Run-Time<tspan x="207.9" dy="3">Policies in</tspan><tspan x="207.9" dy="3">Place</tspan></text></g>

<g id="p41a"><rect class="fw k" x="181.7" y="350" width="23.3" height="11.5"/><text class="p" x="182.9" y="355">Health<tspan x="182.9" dy="3">Monitoring</tspan></text></g>
<g id="p41b"><rect class="fw k" x="206" y="350" width="22.3" height="11.5"/><text class="p" x="207.2" y="355">Performance<tspan x="207.2" dy="3">Monitoring</tspan></text></g>
<g id="p41c"><rect class="fo o" x="230.7" y="350" width="22.6" height="11.5"/><text class="p" x="231.9" y="353.5">Responsive<tspan x="231.9" dy="3">Real-Time</tspan><tspan x="231.9" dy="3">Monitoring</tspan></text></g>
<g id="p41d"><rect class="fg u d" x="255" y="350" width="23.3" height="11.5"/><text class="p" x="256.2" y="353.5">Custom<tspan x="256.2" dy="3">Analysis</tspan><tspan x="256.2" dy="3">Reports</tspan></text></g>
<g id="p41e"><rect class="fo u d" x="280.7" y="350" width="21" height="11.5"/><text class="p" x="281.9" y="356.7">Alerting</text></g>
<g id="p41f"><rect class="fo u d" x="303.3" y="350" width="22.4" height="11.5"/><text class="p" x="304.5" y="355">Predictive<tspan x="304.5" dy="3">Analytics</tspan></text></g>
<g id="p41g"><rect class="fo r" x="327.7" y="350" width="22.3" height="11.5"/><text class="p" x="328.9" y="355">Security<tspan x="328.9" dy="3">Monitoring</tspan></text></g>

<g id="p42a"><rect class="fg u" x="181.7" y="365.7" width="21.6" height="11.5"/><text class="p" x="182.9" y="369.2">Custom<tspan x="182.9" dy="3">Analysis</tspan><tspan x="182.9" dy="3">Reports</tspan></text></g>
<g id="p42b"><rect class="fo u" x="206" y="365.7" width="22.3" height="11.5"/><text class="p" x="207.2" y="372.4">Alerting</text></g>
<g id="p42c"><rect class="fo u" x="230.7" y="365.7" width="22" height="11.5"/><text class="p" x="231.9" y="370.7">Predictive<tspan x="231.9" dy="3">Analytics</tspan></text></g>
<g id="p42d"><rect class="fo u" x="349.3" y="365.7" width="22.4" height="11.5"/><text class="p" x="350.5" y="370.7">Error<tspan x="350.5" dy="3">Reporting</tspan></text></g>
<g id="p42e"><rect class="fl u" x="430.7" y="365.7" width="22.6" height="11.5"/><text class="p" x="431.9" y="369.2">Broadcast<tspan x="431.9" dy="3">Provide API</tspan><tspan x="431.9" dy="3">Status Page</tspan></text></g>

<g id="p43a"><rect class="fw k" x="181.7" y="381.4" width="21.6" height="11.5"/><text class="p" x="182.9" y="386.4">Activity<tspan x="182.9" dy="3">Logging</tspan></text></g>
<g id="p43b"><rect class="fw k" x="206" y="381.4" width="22.3" height="11.5"/><text class="p" x="207.2" y="386.4">Access<tspan x="207.2" dy="3">Logging</tspan></text></g>
<g id="p43c"><rect class="fw k" x="230.7" y="381.4" width="22" height="11.5"/><text class="p" x="231.9" y="388.1">User Auditing</text></g>
<g id="p43d"><rect class="fo r" x="255" y="381.4" width="22.7" height="11.5"/><text class="p" x="256.2" y="386.4">Application<tspan x="256.2" dy="3">Logging</tspan></text></g>
<g id="p43e"><rect class="fo u" x="349.3" y="381.4" width="22.4" height="11.5"/><text class="p" x="350.5" y="388.1">Error Logging</text></g>

<g id="p51a"><rect class="fg u" x="181.7" y="412.8" width="21.6" height="11.5"/><text class="p" x="182.9" y="417.8">Load<tspan x="182.9" dy="3">Balancing</tspan></text></g>
<g id="p51b"><rect class="fo r" x="206.7" y="412.8" width="23.3" height="11.5"/><text class="p" x="207.9" y="416.3">Circuit Breaker<tspan x="207.9" dy="3">Pattern</tspan><tspan x="207.9" dy="3">Implemented</tspan></text></g>
<g id="p51c"><rect class="fw b d" x="233.3" y="412.8" width="21.7" height="11.5"/><text class="p" x="234.5" y="416.3">Scaling<tspan x="234.5" dy="3">Strategy in</tspan><tspan x="234.5" dy="3">Place</tspan></text></g>
<g id="p51d"><rect class="fo u d" x="257.7" y="412.8" width="23" height="11.5"/><text class="p" x="258.9" y="417.8">Manual<tspan x="258.9" dy="3">Scaling</tspan></text></g>
<g id="p51e"><rect class="fw b" x="285" y="412.8" width="22.7" height="11.5"/><text class="p" x="286.2" y="417.8">Implement<tspan x="286.2" dy="3">Auto Scaling</tspan></text></g>
<g id="p51f"><rect class="fo u d" x="311" y="412.8" width="22.3" height="11.5"/><text class="p" x="312.2" y="417.8">Automatic<tspan x="312.2" dy="3">Scaling</tspan></text></g>
<g id="p51g"><rect class="fw g" x="337.3" y="412.8" width="22" height="11.5"/><text class="p" x="338.5" y="417.8">Predictive<tspan x="338.5" dy="3">Scaling</tspan></text></g>
<g id="p51h"><rect class="fo u" x="381" y="412.8" width="22.3" height="11.5"/><text class="p" x="382.2" y="417.8">Failover<tspan x="382.2" dy="3">Policies</tspan></text></g>
<g id="p51i"><rect class="fl u d" x="409.3" y="412.8" width="21.7" height="11.5"/><text class="p" x="410.5" y="417.8">Timeout<tspan x="410.5" dy="3">Policies</tspan></text></g>
<g id="p51j"><rect class="fg u d" x="436.7" y="412.8" width="21.6" height="11.5"/><text class="p" x="437.9" y="419.5">Caching</text></g>

<g id="p52a"><rect class="fl u d" x="181.7" y="428.5" width="23.3" height="11.5"/><text class="p" x="182.9" y="433.5">Load<tspan x="182.9" dy="3">Balancing</tspan></text></g>
<g id="p52b"><rect class="fg r" x="206.7" y="428.5" width="23.3" height="11.5"/><text class="p" x="207.9" y="433.5">Connection<tspan x="207.9" dy="3">Pooling</tspan></text></g>
<g id="p52c"><rect class="fo r" x="231.7" y="428.5" width="21.6" height="11.5"/><text class="p" x="232.9" y="432">Load<tspan x="232.9" dy="3">Balancing</tspan><tspan x="232.9" dy="3">Tiers</tspan></text></g>
<g id="p52d"><rect class="fo r" x="256.7" y="428.5" width="21.6" height="11.5"/><text class="p" x="257.9" y="433.5">Escalation<tspan x="257.9" dy="3">Plan in Place</tspan></text></g>

<g id="p53a"><rect class="fo o" x="181.7" y="444.2" width="21.6" height="11.5"/><text class="p" x="182.9" y="449.2">Discount Rate<tspan x="182.9" dy="3">Limiting</tspan></text></g>
<g id="p53b"><rect class="fo o" x="206.7" y="444.2" width="21.6" height="11.5"/><text class="p" x="207.9" y="449.2">Request Rate<tspan x="207.9" dy="3">Throttling</tspan></text></g>
<g id="p53c"><rect class="fo r" x="231.7" y="444.2" width="21.6" height="11.5"/><text class="p" x="232.9" y="447.7">Data Volume<tspan x="232.9" dy="3">Request</tspan><tspan x="232.9" dy="3">Limiting</tspan></text></g>
<g id="p53d"><rect class="fo r" x="255.7" y="444.2" width="22.6" height="11.5"/><text class="p" x="256.9" y="447.7">Authenticated<tspan x="256.9" dy="3">User Rate</tspan><tspan x="256.9" dy="3">Limitation</tspan></text></g>
<g id="p53e"><rect class="fl b d" x="305" y="444.2" width="22.7" height="11.5"/><text class="p" x="306.2" y="449.2">Allow Listing<tspan x="306.2" dy="3">IP Addresses</tspan></text></g>
<g id="p53f"><rect class="fl u" x="355" y="444.2" width="22.3" height="11.5"/><text class="p" x="356.2" y="447.7">Customer-Based<tspan x="356.2" dy="3">Traffic</tspan><tspan x="356.2" dy="3">Prioritization</tspan></text></g>
<g id="p53g"><rect class="fo u" x="379" y="444.2" width="22.7" height="11.5"/><text class="p" x="380.2" y="449.2">Quota<tspan x="380.2" dy="3">Management</tspan></text></g>
<g id="p53h"><rect class="fg u" x="409.3" y="444.2" width="22.4" height="11.5"/><text class="p" x="410.5" y="449.2">Timeout<tspan x="410.5" dy="3">Policies</tspan></text></g>
<g id="p53i"><rect class="fg u" x="436.7" y="444.2" width="21.6" height="11.5"/><text class="p" x="437.9" y="449.2">Request<tspan x="437.9" dy="3">Caching</tspan></text></g>

<g id="p61a"><rect class="fg u d" x="181.7" y="475.6" width="23.3" height="11.5"/><text class="p" x="182.9" y="479.1">Customer-Based<tspan x="182.9" dy="3">Traffic</tspan><tspan x="182.9" dy="3">Prioritization</tspan></text></g>
<g id="p61b"><rect class="fo u d" x="208.3" y="475.6" width="21.7" height="11.5"/><text class="p" x="209.5" y="480.6">Quota<tspan x="209.5" dy="3">Management</tspan></text></g>
<g id="p61c"><rect class="fl u d" x="233.3" y="475.6" width="23.4" height="11.5"/><text class="p" x="234.5" y="479.1">Subscription<tspan x="234.5" dy="3">Management</tspan><tspan x="234.5" dy="3">System</tspan></text></g>

<g id="p62a"><rect class="fw r" x="181.7" y="491.3" width="23.3" height="11.5"/><text class="p" x="182.9" y="494.8">Terms &amp;<tspan x="182.9" dy="3">Conditions for</tspan><tspan x="182.9" dy="3">Usage</tspan></text></g>
<g id="p62b"><rect class="fl u d" x="208.3" y="491.3" width="21.7" height="11.5"/><text class="p" x="209.5" y="496.3">Quota<tspan x="209.5" dy="3">Management</tspan></text></g>
<g id="p62c"><rect class="fo o" x="232.3" y="491.3" width="26" height="11.5"/><text class="p" x="233.5" y="496.3">Provide Bulk<tspan x="233.5" dy="3">Management</tspan></text></g>
<g id="p62d"><rect class="fw g" x="261" y="491.3" width="22.3" height="11.5"/><text class="p" x="262.2" y="496.3">Personalized<tspan x="262.2" dy="3">SLA</tspan></text></g>
<g id="p62e"><rect class="fo o" x="286" y="491.3" width="22.3" height="11.5"/><text class="p" x="287.2" y="496.3">Internal SLA<tspan x="287.2" dy="3">Monitoring</tspan></text></g>
<g id="p62f"><rect class="fo o" x="311" y="491.3" width="22.3" height="11.5"/><text class="p" x="312.2" y="496.3">Proactive SLA<tspan x="312.2" dy="3">Monitoring</tspan></text></g>

<g id="p63a"><rect class="fs k" x="181.7" y="507" width="23.3" height="11.5"/><text class="p" x="182.9" y="510.5">Subscription-<tspan x="182.9" dy="3">Based</tspan><tspan x="182.9" dy="3">Monetization</tspan></text></g>
<g id="p63b"><rect class="fs k" x="207.3" y="507" width="22.7" height="11.5"/><text class="p" x="208.5" y="512">Tier-Based<tspan x="208.5" dy="3">Monetization</tspan></text></g>
<g id="p63c"><rect class="fs k" x="232.3" y="507" width="22.7" height="11.5"/><text class="p" x="233.5" y="510.5">Metering-Bas<tspan x="233.5" dy="3">ed</tspan><tspan x="233.5" dy="3">Monetization</tspan></text></g>
<g id="p63d"><rect class="fw g" x="258.3" y="507" width="22.4" height="11.5"/><text class="p" x="259.5" y="512">Freemium<tspan x="259.5" dy="3">Monetization</tspan></text></g>
<g id="p63e"><rect class="fo r" x="283.3" y="507" width="22" height="11.5"/><text class="p" x="284.5" y="512">Revenue<tspan x="284.5" dy="3">Sharing</tspan></text></g>
<g id="p63f"><rect class="fl b d" x="311" y="507" width="23.3" height="11.5"/><text class="p" x="312.2" y="510.5">Business<tspan x="312.2" dy="3">Value</tspan><tspan x="312.2" dy="3">Reporting</tspan></text></g>

<g id="p64a"><rect class="fo u d" x="181.7" y="522.7" width="30" height="11.5"/><text class="p" x="182.9" y="527.7">Customer Success<tspan x="182.9" dy="3">Optimization</tspan></text></g>
<g id="p64b"><rect class="fo u d" x="214" y="522.7" width="22.7" height="11.5"/><text class="p" x="215.2" y="527.7">Customer<tspan x="215.2" dy="3">Marketing</tspan></text></g>
<g id="p64c"><rect class="fl b" x="239.3" y="522.7" width="24.7" height="11.5"/><text class="p" x="240.5" y="526.2">Proactive<tspan x="240.5" dy="3">Customer</tspan><tspan x="240.5" dy="3">Optimization</tspan></text></g>
<g id="p64d"><rect class="fo o" x="265.7" y="522.7" width="25.3" height="11.5"/><text class="p" x="266.9" y="526.2">Subscription<tspan x="266.9" dy="3">report to</tspan><tspan x="266.9" dy="3">customer</tspan></text></g>
<g id="p64e"><rect class="fo o" x="326.7" y="522.7" width="31" height="11.5"/><text class="p" x="327.9" y="526.2">Report Business API<tspan x="327.9" dy="3">Program Business</tspan><tspan x="327.9" dy="3">Value Reporting</tspan></text></g>
<g id="p64f"><rect class="fl u" x="360.7" y="522.7" width="22.6" height="11.5"/><text class="p" x="361.9" y="526.2">Subscription<tspan x="361.9" dy="3">Management</tspan><tspan x="361.9" dy="3">System</tspan></text></g>

<g id="p65a"><rect class="fo r" x="181.7" y="538.4" width="23.3" height="11.5"/><text class="p" x="182.9" y="541.9">Third-Party<tspan x="182.9" dy="3">Payment Provider</tspan><tspan x="182.9" dy="3">Integration</tspan></text></g>
<g id="p65b"><rect class="fo r" x="207.3" y="538.4" width="22.7" height="11.5"/><text class="p" x="208.5" y="543.4">Automated<tspan x="208.5" dy="3">Billing</tspan></text></g>
<g id="p65c"><rect class="fo u d" x="283.3" y="538.4" width="25" height="11.5"/><text class="p" x="284.5" y="541.9">Internal<tspan x="284.5" dy="3">Business Value</tspan><tspan x="284.5" dy="3">Reporting</tspan></text></g>

<g id="p71a"><rect class="fo r" x="181.7" y="569.8" width="23.3" height="11.5"/><text class="p" x="182.9" y="574.8">Define Naming<tspan x="182.9" dy="3">Conventions</tspan></text></g>
<g id="p71b"><rect class="fo r" x="210" y="569.8" width="21.7" height="11.5"/><text class="p" x="211.2" y="574.8">Define Best<tspan x="211.2" dy="3">Practices</tspan></text></g>
<g id="p71c"><rect class="fo r" x="234.3" y="569.8" width="22.4" height="11.5"/><text class="p" x="235.5" y="573.3">Define<tspan x="235.5" dy="3">Integration</tspan><tspan x="235.5" dy="3">Patterns</tspan></text></g>
<g id="p71d"><rect class="fo r" x="259.3" y="569.8" width="22.4" height="11.5"/><text class="p" x="260.5" y="573.3">Define<tspan x="260.5" dy="3">Architecture</tspan><tspan x="260.5" dy="3">Principles</tspan></text></g>

<g id="p72a"><rect class="fo r" x="181.7" y="585.5" width="23.3" height="11.5"/><text class="p" x="182.9" y="590.5">Configure<tspan x="182.9" dy="3">Policies</tspan></text></g>
<g id="p72b"><rect class="fo r" x="207.3" y="585.5" width="22.7" height="11.5"/><text class="p" x="208.5" y="590.5">Create Policy<tspan x="208.5" dy="3">Chains</tspan></text></g>
<g id="p72c"><rect class="fo r" x="232.3" y="585.5" width="22.7" height="11.5"/><text class="p" x="233.5" y="589">Create<tspan x="233.5" dy="3">Extension</tspan><tspan x="233.5" dy="3">Policies</tspan></text></g>
</svg>
